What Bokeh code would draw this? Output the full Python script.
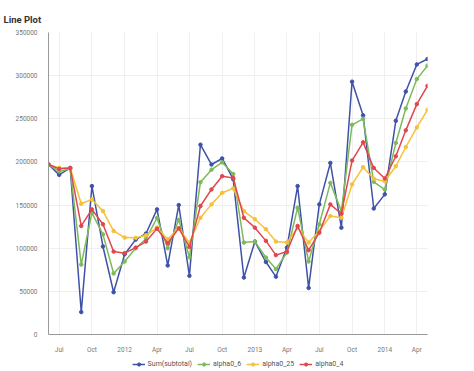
import pandas as pd
from bokeh.plotting import figure
from bokeh.layouts import column
from bokeh.models import (Range1d, FixedTicker, NumeralTickFormatter, Legend, LegendItem)
from bokeh.embed import file_html
from bokeh.resources import INLINE

months = pd.date_range("2011-06-01", periods=36, freq="MS")

sum_subtotal = [197000, 185000, 193000, 26000, 172000, 102000, 49000, 93000, 110000, 117000,
                145000, 80000, 150000, 68000, 220000, 197000, 204000, 180000, 66000, 107700,
                84000, 67000, 100700, 172000, 54000, 150800, 198800, 123800, 293000, 254000,
                146000, 162400, 247700, 281600, 313000, 319300]
alpha0_6 = [197000, 189000, 192000, 81000, 141000, 116000, 70700, 84600, 100000, 111000,
            135000, 100000, 133000, 89500, 176500, 191000, 199600, 186000, 106500, 107700,
            89200, 75800, 95000, 147000, 84600, 127700, 175700, 143000, 243000, 250000,
            177000, 168000, 222000, 262000, 296000, 311600]
alpha0_25 = [197000, 193000, 193000, 151500, 156600, 143000, 120000, 112300, 112000, 115000,
             123800, 110400, 123000, 106500, 135300, 150800, 164200, 169300, 143000, 133500,
             122000, 107700, 106500, 123800, 106500, 120000, 137300, 135300, 173900, 193900,
             180500, 177700, 195000, 217300, 240000, 260400]
alpha0_4 = [197000, 192000, 193000, 125800, 145000, 127700, 96100, 94300, 100700, 107700,
            122700, 105800, 123100, 101500, 148900, 168100, 183500, 181500, 135300, 123800,
            108500, 92000, 96100, 125800, 97700, 118000, 150800, 140000, 201600, 222700,
            193000, 180800, 206600, 236600, 267000, 288100]

tick_dates = ["2011-07-01", "2011-10-01", "2012-01-01", "2012-04-01", "2012-07-01",
              "2012-10-01", "2013-01-01", "2013-04-01", "2013-07-01", "2013-10-01",
              "2014-01-01", "2014-04-01"]
tick_labels = ["Jul", "Oct", "2012", "Apr", "Jul", "Oct", "2013", "Apr", "Jul", "Oct",
               "2014", "Apr"]
y_ticks = [0, 50000, 100000, 150000, 200000, 250000, 300000, 350000]

series_names = ["Sum(subtotal)", "alpha0_6", "alpha0_25", "alpha0_4"]
series_values = [sum_subtotal, alpha0_6, alpha0_25, alpha0_4]
colors = ["#3f51a8", "#7cba5a", "#f5c13a", "#e0464e"]

FONT = "Roboto"

p = figure(width=474, height=356, x_axis_type="datetime", output_backend="svg",
           toolbar_location=None,
           min_border_left=48, min_border_right=47, min_border_top=32, min_border_bottom=22)

p.x_range = Range1d(months[0], months[-1])
p.y_range = Range1d(0, 350000)

p.title.text = "Line Plot"
p.title.text_font = FONT
p.title.text_font_size = "9.5px"
p.title.text_font_style = "bold"
p.title.text_color = "#333333"
p.title.align = "left"
p.title.offset = -45
p.title.standoff = 15

for vals, c in zip(series_values, colors):
    p.line(months, vals, line_color=c, line_width=1.5)
    p.scatter(months, vals, size=3.5, fill_color=c, line_color=c)

tick_ms = [pd.Timestamp(d).value // 10**6 for d in tick_dates]
p.xaxis.ticker = FixedTicker(ticks=tick_ms)
p.xaxis.major_label_overrides = {t: l for t, l in zip(tick_ms, tick_labels)}
p.yaxis.ticker = FixedTicker(ticks=y_ticks)
p.yaxis.formatter = NumeralTickFormatter(format="0")

for ax in (p.xaxis[0], p.yaxis[0]):
    ax.axis_line_color = "#999999"
    ax.axis_line_width = 1
    ax.major_tick_line_color = None
    ax.minor_tick_line_color = None
    ax.major_label_text_font = FONT
    ax.major_label_text_font_size = "6.5px"
    ax.major_label_text_color = "#777777"
    ax.major_label_standoff = 5

p.xgrid.grid_line_color = "#efefef"
p.ygrid.grid_line_color = "#efefef"
p.outline_line_color = None

# legend strip below the chart (its renderers lie outside its own view ranges)
lg = figure(width=474, height=15, output_backend="svg", toolbar_location=None,
            x_axis_location=None, y_axis_location=None,
            x_range=Range1d(0, 1), y_range=Range1d(0, 1),
            min_border_left=0, min_border_right=0, min_border_top=0, min_border_bottom=0)
lg.grid.visible = False
lg.outline_line_color = None
items = []
for name, vals, c in zip(series_names, series_values, colors):
    r1 = lg.line(months, vals, line_color=c, line_width=1.5)
    r2 = lg.scatter(months, vals, size=5, fill_color=c, line_color=c)
    items.append(LegendItem(label=name, renderers=[r1, r2]))

legend = Legend(items=items, orientation="horizontal", location="center",
                label_text_font=FONT, label_text_font_size="7px", label_text_color="#555555",
                glyph_width=13, glyph_height=8, label_standoff=3, spacing=5,
                border_line_color=None, background_fill_alpha=0, padding=1, margin=0)
lg.add_layout(legend, "center")

layout = column(p, lg, spacing=0)

open("out.html", "w").write(file_html(layout, INLINE))
